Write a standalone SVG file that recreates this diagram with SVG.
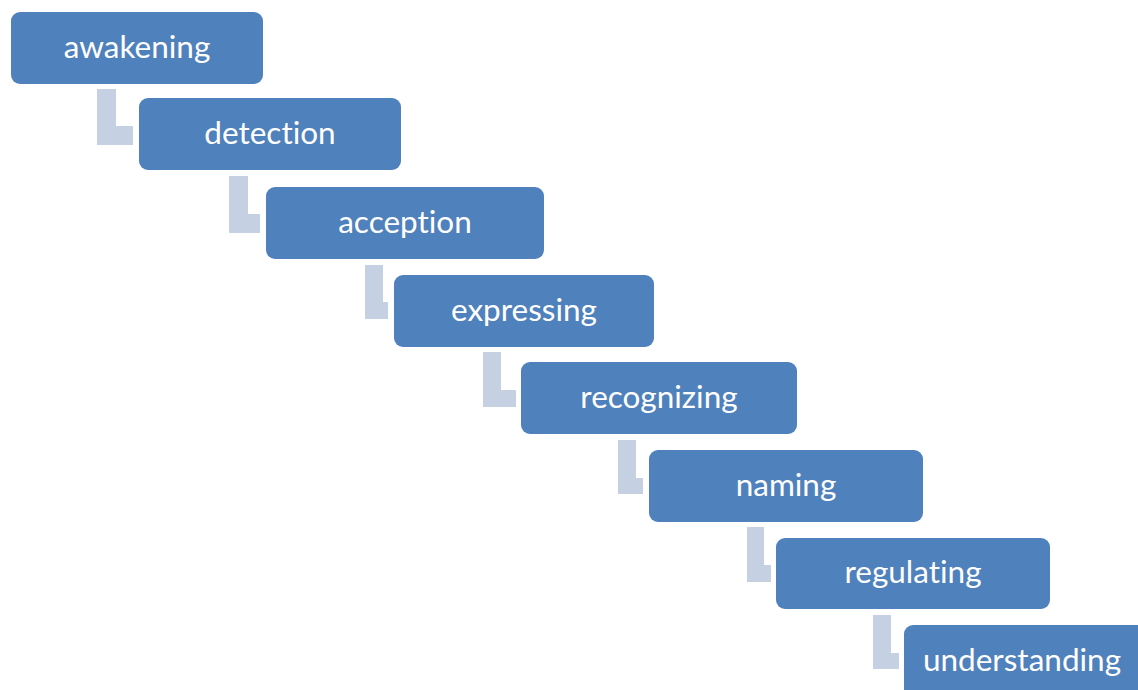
<svg xmlns="http://www.w3.org/2000/svg" width="1138" height="690" viewBox="0 0 1138 690">
  <style>
    .box { fill: #4F81BD; }
    .lbl { fill: #FFFFFF; font-family: Lato, "Open Sans", sans-serif; font-size: 31.5px; text-anchor: middle; font-variant-ligatures: none; }
    .elbow { fill: #C5D0E3; }
  </style>
  <rect width="1138" height="690" fill="#FFFFFF"/>

  <!-- elbow connectors between consecutive steps -->
  <g id="connectors">
    <path class="elbow" d="M97 89 H116 V126 H133 V145 H97 Z"/>
    <path class="elbow" d="M229 176 H248 V214 H260 V233 H229 Z"/>
    <path class="elbow" d="M365 265 H383 V302 H388 V319 H365 Z"/>
    <path class="elbow" d="M483 352 H501 V390 H516 V407 H483 Z"/>
    <path class="elbow" d="M618 440 H636 V478 H643 V494 H618 Z"/>
    <path class="elbow" d="M747 527 H764 V565 H771 V582 H747 Z"/>
    <path class="elbow" d="M873 615 H891 V653 H899 V669 H873 Z"/>
  </g>

  <g id="awakening">
    <rect class="box" x="11" y="12" width="252" height="72" rx="9"/>
    <text class="lbl" x="137" y="58">awakening</text>
  </g>
  <g id="detection">
    <rect class="box" x="139" y="98" width="262" height="72" rx="9"/>
    <text class="lbl" x="270" y="144">detection</text>
  </g>
  <g id="acception">
    <rect class="box" x="266" y="187" width="278" height="72" rx="9"/>
    <text class="lbl" x="405" y="233">acception</text>
  </g>
  <g id="expressing">
    <rect class="box" x="394" y="275" width="260" height="72" rx="9"/>
    <text class="lbl" x="524" y="321">expressing</text>
  </g>
  <g id="recognizing">
    <rect class="box" x="521" y="362" width="276" height="72" rx="9"/>
    <text class="lbl" x="659" y="408">recognizing</text>
  </g>
  <g id="naming">
    <rect class="box" x="649" y="450" width="274" height="72" rx="9"/>
    <text class="lbl" x="786" y="496">naming</text>
  </g>
  <g id="regulating">
    <rect class="box" x="776" y="538" width="274" height="71" rx="9"/>
    <text class="lbl" x="913" y="583">regulating</text>
  </g>
  <g id="understanding">
    <rect class="box" x="904" y="625" width="250" height="80" rx="9"/>
    <text class="lbl" x="1022" y="671">understanding</text>
  </g>
</svg>
